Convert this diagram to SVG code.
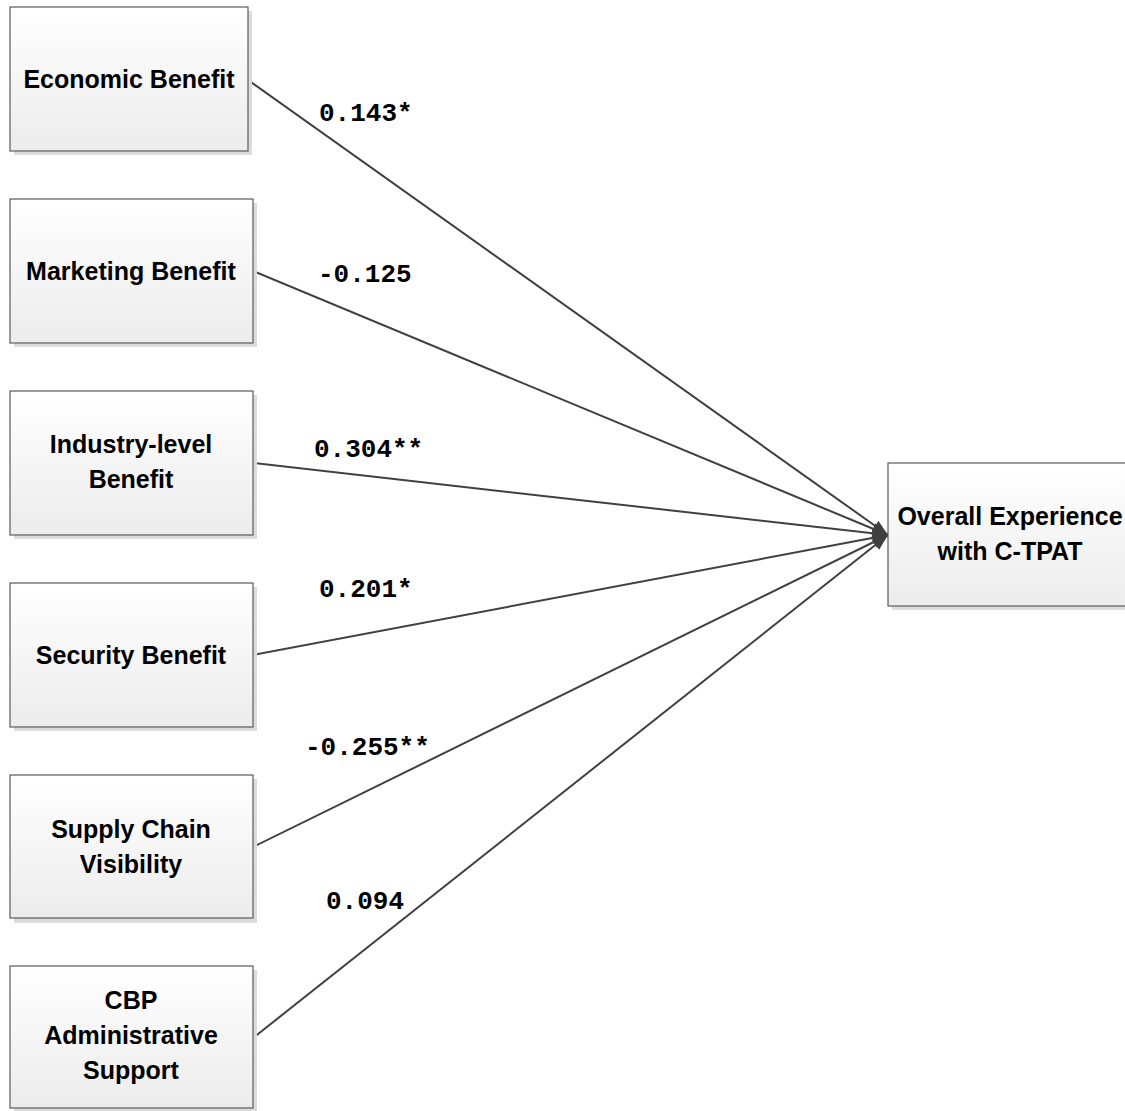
<svg xmlns="http://www.w3.org/2000/svg" width="1125" height="1111" viewBox="0 0 1125 1111">
<defs>
<linearGradient id="g" x1="0" y1="0" x2="0" y2="1">
<stop offset="0" stop-color="#ffffff"/>
<stop offset="1" stop-color="#ececec"/>
</linearGradient>
<marker id="arr" markerUnits="userSpaceOnUse" markerWidth="18" markerHeight="14" refX="16" refY="6" orient="auto">
<path d="M0,0 L16,6 L0,12 z" fill="#404040"/>
</marker>
<style>
.box{fill:url(#g);stroke:#5a5a5a;stroke-width:1.2}
.sh{fill:#dcdcdc}
.t{font-family:"Liberation Sans",Arial,sans-serif;font-weight:bold;font-size:25px;fill:#000;text-anchor:middle}
.lb{font-family:"Liberation Mono","Courier New",monospace;font-weight:bold;font-size:26px;fill:#000}
.c{stroke:#404040;stroke-width:2;fill:none;marker-end:url(#arr)}
</style>
</defs>
<rect width="1125" height="1111" fill="#ffffff"/>
<g id="connectors">
<line class="c" x1="248" y1="80" x2="888" y2="535"/>
<line class="c" x1="253" y1="271" x2="888" y2="535"/>
<line class="c" x1="253" y1="463" x2="888" y2="535"/>
<line class="c" x1="253" y1="655" x2="888" y2="535"/>
<line class="c" x1="253" y1="847" x2="888" y2="535"/>
<line class="c" x1="253" y1="1038" x2="888" y2="535"/>
<text class="lb" x="319" y="121">0.143*</text>
<text class="lb" x="318" y="282">-0.125</text>
<text class="lb" x="314" y="457">0.304**</text>
<text class="lb" x="319" y="597">0.201*</text>
<text class="lb" x="305" y="755">-0.255**</text>
<text class="lb" x="326" y="909">0.094</text>
</g>
<g id="n1">
<rect class="sh" x="14" y="11" width="238" height="144"/>
<rect class="box" x="10" y="7" width="238" height="144"/>
<text class="t" x="129" y="88">Economic Benefit</text>
</g>
<g id="n2">
<rect class="sh" x="14" y="203" width="243" height="144"/>
<rect class="box" x="10" y="199" width="243" height="144"/>
<text class="t" x="131" y="280">Marketing Benefit</text>
</g>
<g id="n3">
<rect class="sh" x="14" y="395" width="243" height="144"/>
<rect class="box" x="10" y="391" width="243" height="144"/>
<text class="t" x="131" y="453">Industry-level</text>
<text class="t" x="131" y="488">Benefit</text>
</g>
<g id="n4">
<rect class="sh" x="14" y="587" width="243" height="144"/>
<rect class="box" x="10" y="583" width="243" height="144"/>
<text class="t" x="131" y="664">Security Benefit</text>
</g>
<g id="n5">
<rect class="sh" x="14" y="779" width="243" height="144"/>
<rect class="box" x="10" y="775" width="243" height="143"/>
<text class="t" x="131" y="838">Supply Chain</text>
<text class="t" x="131" y="873">Visibility</text>
</g>
<g id="n6">
<rect class="sh" x="14" y="970" width="243" height="144"/>
<rect class="box" x="10" y="966" width="243" height="142"/>
<text class="t" x="131" y="1009">CBP</text>
<text class="t" x="131" y="1044">Administrative</text>
<text class="t" x="131" y="1079">Support</text>
</g>
<g id="n7">
<rect class="sh" x="892" y="467" width="240" height="143"/>
<rect class="box" x="888" y="463" width="244" height="143"/>
<text class="t" x="1010" y="525">Overall Experience</text>
<text class="t" x="1010" y="560">with C-TPAT</text>
</g>
</svg>
